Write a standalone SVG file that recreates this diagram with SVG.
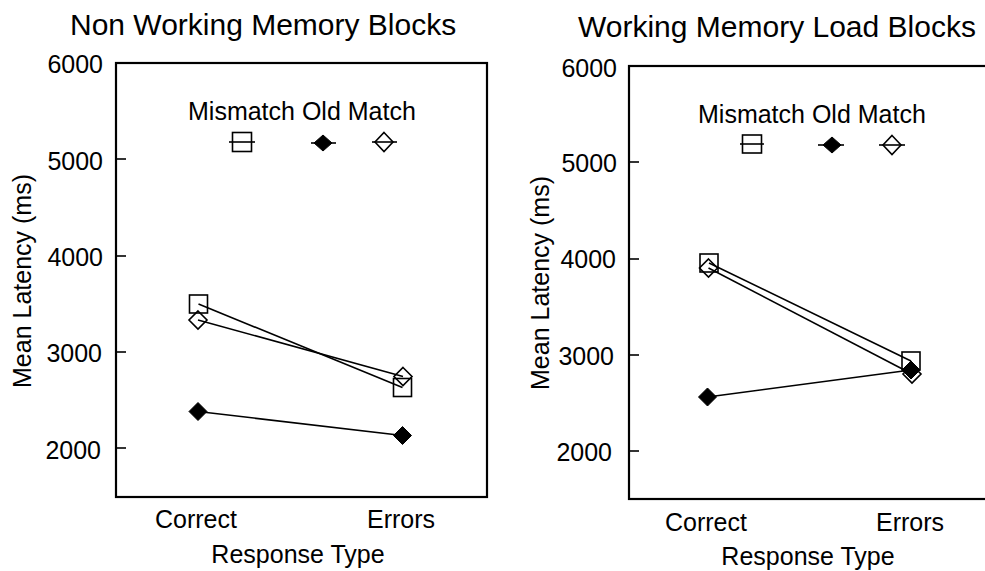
<svg xmlns="http://www.w3.org/2000/svg" width="985" height="571" viewBox="0 0 985 571">
<style>
text{font-family:"Liberation Sans",Arial,sans-serif;fill:#000}
.title{font-size:30px}
.lab{font-size:25px}
.tick{font-size:25px;text-anchor:end}
.mid{text-anchor:middle}
.frame{fill:none;stroke:#000;stroke-width:2.2}
.tk{stroke:#000;stroke-width:1.6}
.ln{stroke:#000;stroke-width:1.6;fill:none}
.open{fill:none;stroke:#000;stroke-width:1.6}
.fill{fill:#000;stroke:#000;stroke-width:1}
</style>
<defs>
<rect id="sq" x="-9" y="-9" width="18" height="18"/>
<polygon id="dm" points="0,-9 9,0 0,9 -9,0"/>
</defs>
<rect width="985" height="571" fill="#fff"/>

<g id="left-plot">
<text class="title" x="70" y="35">Non Working Memory Blocks</text>
<rect class="frame" x="116" y="63" width="371" height="434"/>
<g id="left-yaxis">
<line class="tk" x1="116" y1="159" x2="126" y2="159"/>
<line class="tk" x1="116" y1="256" x2="126" y2="256"/>
<line class="tk" x1="116" y1="352" x2="126" y2="352"/>
<line class="tk" x1="116" y1="448" x2="126" y2="448"/>
<text class="tick" x="103" y="73">6000</text>
<text class="tick" x="103" y="170">5000</text>
<text class="tick" x="103" y="266">4000</text>
<text class="tick" x="102" y="362">3000</text>
<text class="tick" x="101" y="459">2000</text>
<text class="lab mid" transform="translate(31,281) rotate(-90)">Mean Latency (ms)</text>
</g>
<text class="lab mid" x="196" y="528">Correct</text>
<text class="lab mid" x="401" y="528">Errors</text>
<text class="lab mid" x="298" y="563">Response Type</text>
<g id="left-legend">
<text class="lab" x="188" y="120">Mismatch Old Match</text>
<line class="tk" x1="229" y1="142" x2="255" y2="142"/>
<rect class="open" x="232.5" y="132.5" width="19" height="19"/>
<line class="tk" x1="311" y1="143" x2="336" y2="143"/>
<polygon class="fill" points="323,135 332,143 323,151 314,143"/>
<line class="tk" x1="372" y1="142" x2="397" y2="142"/>
<polygon class="open" points="384,132.5 393,142 384,151.5 375,142"/>
</g>
<g id="left-connectors">
<line class="ln" x1="198.5" y1="304" x2="402.5" y2="387.5"/>
<line class="ln" x1="198" y1="320" x2="403" y2="376.5"/>
<line class="ln" x1="198" y1="411.5" x2="402.5" y2="435.5"/>
</g>
<g id="left-markers">
<use href="#sq" class="open" x="198.5" y="304"/>
<use href="#dm" class="open" x="198" y="320"/>
<use href="#sq" class="open" x="402.5" y="387.5"/>
<use href="#dm" class="open" x="403" y="376.5"/>
<use href="#dm" class="fill" x="198" y="411.5"/>
<use href="#dm" class="fill" x="402.5" y="435.5"/>
</g>
</g>

<g id="right-plot">
<text class="title" x="578" y="37">Working Memory Load Blocks</text>
<rect class="frame" x="629" y="66" width="371" height="433"/>
<g id="right-yaxis">
<line class="tk" x1="629" y1="162" x2="639" y2="162"/>
<line class="tk" x1="629" y1="259" x2="639" y2="259"/>
<line class="tk" x1="629" y1="355" x2="639" y2="355"/>
<line class="tk" x1="629" y1="451" x2="639" y2="451"/>
<text class="tick" x="617" y="77">6000</text>
<text class="tick" x="617" y="172">5000</text>
<text class="tick" x="616" y="268">4000</text>
<text class="tick" x="614" y="365">3000</text>
<text class="tick" x="612" y="461">2000</text>
<text class="lab mid" transform="translate(549,283) rotate(-90)">Mean Latency (ms)</text>
</g>
<text class="lab mid" x="706" y="531">Correct</text>
<text class="lab mid" x="910" y="531">Errors</text>
<text class="lab mid" x="808" y="565">Response Type</text>
<g id="right-legend">
<text class="lab" x="698" y="123">Mismatch Old Match</text>
<line class="tk" x1="740" y1="144" x2="764" y2="144"/>
<rect class="open" x="742.5" y="135" width="19" height="18"/>
<line class="tk" x1="818" y1="145" x2="844" y2="145"/>
<polygon class="fill" points="832,137 841,145 832,153 823,145"/>
<line class="tk" x1="879" y1="145" x2="905" y2="145"/>
<polygon class="open" points="892,135.5 901,145 892,154.5 883,145"/>
</g>
<g id="right-connectors">
<line class="ln" x1="709" y1="263" x2="911" y2="361"/>
<line class="ln" x1="708.5" y1="268" x2="912" y2="374"/>
<line class="ln" x1="707.5" y1="397" x2="911" y2="370"/>
</g>
<g id="right-markers">
<use href="#sq" class="open" x="709" y="263"/>
<use href="#dm" class="open" x="708.5" y="268"/>
<use href="#sq" class="open" x="911" y="361"/>
<use href="#dm" class="open" x="912" y="374"/>
<use href="#dm" class="fill" x="911" y="370"/>
<use href="#dm" class="fill" x="707.5" y="397"/>
</g>
</g>
</svg>
